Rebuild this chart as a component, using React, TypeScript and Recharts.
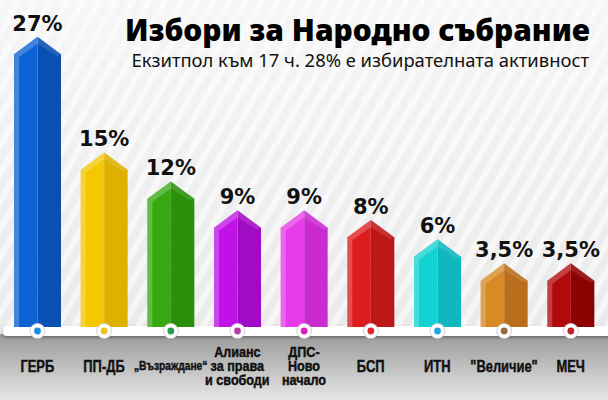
import React from "react";
import { BarChart, Bar, XAxis, YAxis, LabelList } from "recharts";

// exit poll, 17:00
const parties = [
  "ГЕРБ",
  "ПП-ДБ",
  "„Възраждане“",
  "Алианс\nза права\nи свободи",
  "ДПС-\nНово\nначало",
  "БСП",
  "ИТН",
  "\"Величие\"",
  "МЕЧ",
];
const results = [27, 15, 12, 9, 9, 8, 6, 3.5, 3.5];

const lightColors = ["#0d62d4", "#f4c700", "#36a912", "#bf12e6", "#e63be8", "#dd1d1d", "#12d2d2", "#d88a24", "#b20a0a"];
const darkColors = ["#0a50b2", "#deb100", "#2a8f0a", "#a10bc6", "#c92bd0", "#bd1616", "#0eb8be", "#b86e1a", "#8c0101"];
const dotColors = ["#1a8fe0", "#f2c21e", "#23a04f", "#b43ea6", "#e01cc0", "#e4262a", "#22a3e2", "#9a6a3c", "#c01e2a"];

const title = "Избори за Народно събрание";
const subtitle = "Екзитпол към 17 ч. 28% е избирателната активност";

const data = parties.map((name, i) => ({ name, value: results[i] }));

const fmt = (v: number) => String(v).replace(".", ",") + "%";

function PencilBar(props: any) {
  const { x, y, width, height, index, background } = props;
  const bottom = background ? background.y + background.height : y + height;
  const roof = width * 0.37;
  const mid = x + width / 2;
  const right = x + width;
  return (
    <g>
      <path
        d={`M${x},${bottom} L${x},${y + roof} L${mid},${y} L${mid},${bottom} Z`}
        fill={lightColors[index]}
      />
      <path
        d={`M${mid},${bottom} L${mid},${y} L${right},${y + roof} L${right},${bottom} Z`}
        fill={darkColors[index]}
      />
      {/* bevel highlights */}
      <path
        d={`M${x},${y + roof} L${mid},${y} L${mid},${y + 7} L${x + 5},${y + roof + 3} L${x + 5},${bottom} L${x},${bottom} Z`}
        fill="#fff"
        opacity={0.22}
      />
      <path
        d={`M${mid},${y} L${right},${y + roof} L${right - 4},${y + roof + 2} L${mid},${y + 7} Z`}
        fill="#fff"
        opacity={0.12}
      />
      <circle cx={mid} cy={bottom + 4} r={7.5} fill="#fff" stroke="#c8c8c8" strokeWidth={0.8} />
      <circle cx={mid} cy={bottom + 4} r={3.4} fill={dotColors[index]} />
    </g>
  );
}

function ValueLabel(props: any) {
  const { x, y, width, value } = props;
  return (
    <text
      x={x + width / 2}
      y={y - 6}
      textAnchor="middle"
      fontFamily="'DejaVu Sans', sans-serif"
      fontWeight="bold"
      fontSize={21}
      fill="#111"
    >
      {fmt(value)}
    </text>
  );
}

function PartyTick(props: any) {
  const { x, y, payload } = props;
  const lines = String(payload.value).split("\n");
  const multi = lines.length > 1;
  const small = !multi && lines[0].length > 9;
  const fs = multi ? 14 : small ? 13.5 : 17;
  const sx = multi ? 0.9 : 0.76;
  const lh = 14;
  const cy = 366 - 327 + y - 8;
  return (
    <g transform={`translate(${x},0) scale(${sx},1)`}>
      <text
        textAnchor="middle"
        fontFamily="'Liberation Sans', Arial, sans-serif"
        fontWeight="bold"
        fontSize={fs}
        fill="#111"
        stroke="#111"
        strokeWidth={0.45}
      >
        {lines.map((l, i) => (
          <tspan key={i} x={0} y={cy + (i - (lines.length - 1) / 2) * lh} dominantBaseline="central">
            {l}
          </tspan>
        ))}
      </text>
    </g>
  );
}

function Backdrop() {
  return (
    <svg width={608} height={400} style={{ position: "absolute", left: 0, top: 0 }}>
      <defs>
        <linearGradient id="bg" x1="0" y1="0" x2="0" y2="1">
          <stop offset="0" stopColor="#f6f6f6" />
          <stop offset="1" stopColor="#e8e8e8" />
        </linearGradient>
        <pattern id="stripes" width="14" height="14" patternUnits="userSpaceOnUse" patternTransform="rotate(30)">
          <rect width="6" height="14" fill="#ffffff" opacity="0.55" />
        </pattern>
        <linearGradient id="floor" x1="0" y1="0" x2="0" y2="1">
          <stop offset="0" stopColor="#9a9a9a" />
          <stop offset="1" stopColor="#e6e6e6" />
        </linearGradient>
        <filter id="sh" x="-5%" y="-50%" width="110%" height="250%">
          <feDropShadow dx="0" dy="1.5" stdDeviation="1.5" floodColor="#000" floodOpacity="0.35" />
        </filter>
      </defs>
      <rect width={608} height={400} fill="url(#bg)" />
      <rect width={608} height={334} fill="url(#stripes)" />
      <rect y={334} width={608} height={66} fill="url(#floor)" />
      <rect x={3} y={326} width={640} height={10} rx={4} fill="#fff" filter="url(#sh)" />
      <text
        lang="bg"
        x={590}
        y={41}
        textAnchor="end"
        fontFamily="'Noto Sans', sans-serif"
        fontWeight={900}
        fontSize={30}
        fill="#000"
      >
        {title}
      </text>
      <text
        lang="bg"
        x={589}
        y={67}
        textAnchor="end"
        fontFamily="'Noto Sans', sans-serif"
        fontSize={18.4}
        fill="#111"
      >
        {subtitle}
      </text>
    </svg>
  );
}

export default function App() {
  return (
    <div lang="bg" style={{ position: "absolute", left: 0, top: 0, width: 608, height: 400, overflow: "hidden" }}>
      <Backdrop />
      <div style={{ position: "absolute", left: 0, top: 0 }}>
        <BarChart width={608} height={400} data={data} margin={{ top: 4, right: 4, left: 4, bottom: 0 }} barSize={47}>
          <XAxis dataKey="name" axisLine={false} tickLine={false} interval={0} tick={<PartyTick />} height={73} />
          <YAxis hide domain={[-3.1, 30.4]} type="number" />
          <Bar dataKey="value" shape={<PencilBar />} isAnimationActive={false}>
            <LabelList dataKey="value" content={<ValueLabel />} />
          </Bar>
        </BarChart>
      </div>
    </div>
  );
}
